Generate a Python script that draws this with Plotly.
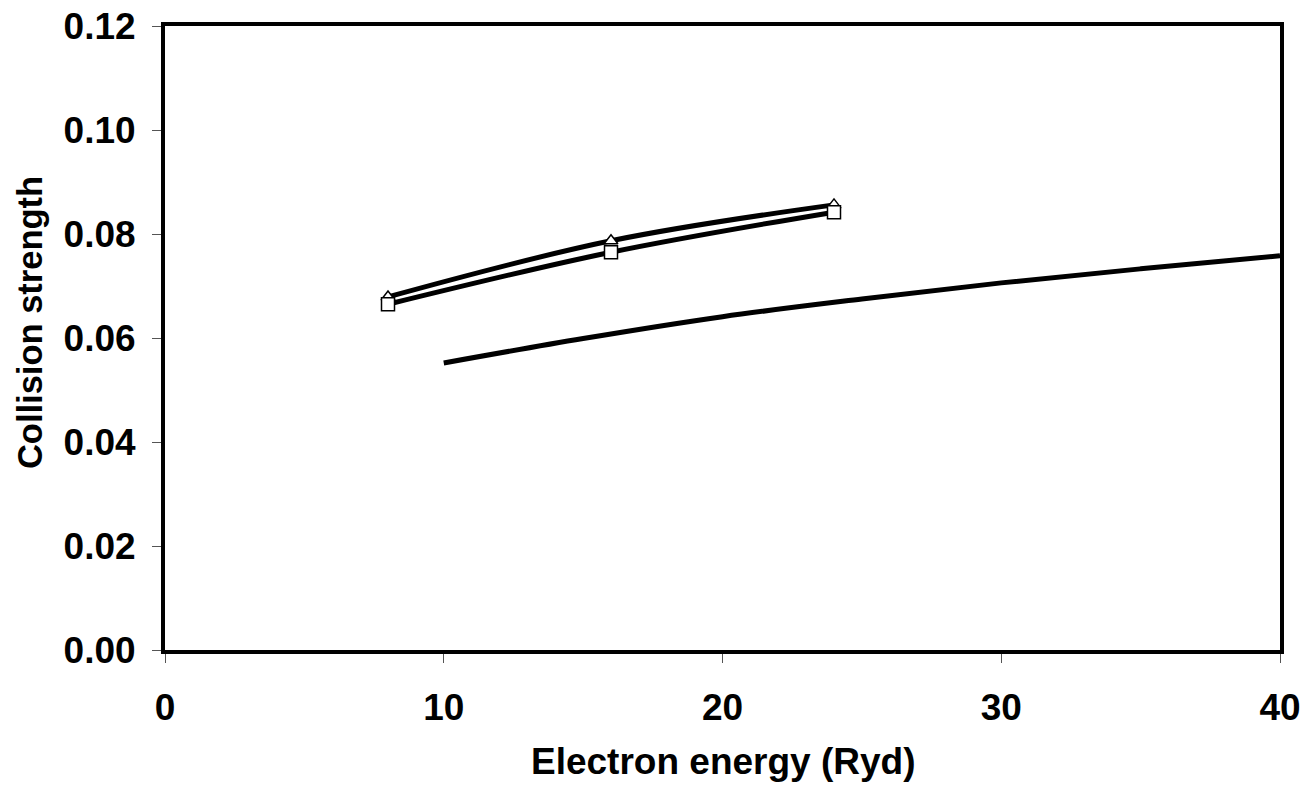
import plotly.graph_objects as go

# Data
energy_a = [8, 16, 24]
strength_triangle = [0.0679, 0.0787, 0.0856]
strength_square = [0.0665, 0.0765, 0.0842]

energy_b = [10, 15, 20, 25, 30, 35, 40]
strength_line = [0.0552, 0.0599, 0.0641, 0.0675, 0.0706, 0.0733, 0.0758]

x_ticks = [0, 10, 20, 30, 40]
y_ticks = [0.00, 0.02, 0.04, 0.06, 0.08, 0.10, 0.12]

x_title = "Electron energy (Ryd)"
y_title = "Collision strength"

FONT = "Liberation Sans, Arial, sans-serif"

fig = go.Figure()
fig.add_trace(go.Scatter(
    x=energy_a, y=strength_triangle, mode="lines+markers",
    line=dict(color="black", width=5, shape="spline"),
    marker=dict(symbol="triangle-up", size=12, color="white",
                line=dict(color="black", width=1.5)),
    showlegend=False, cliponaxis=False))
fig.add_trace(go.Scatter(
    x=energy_a, y=strength_square, mode="lines+markers",
    line=dict(color="black", width=5, shape="spline"),
    marker=dict(symbol="square", size=13, color="white",
                line=dict(color="black", width=1.5)),
    showlegend=False, cliponaxis=False))
fig.add_trace(go.Scatter(
    x=energy_b, y=strength_line, mode="lines",
    line=dict(color="black", width=5, shape="spline"),
    showlegend=False, cliponaxis=False))

fig.update_layout(
    template="none",
    width=1302, height=786,
    margin=dict(l=165, r=22, t=26, b=136, autoexpand=False),
    paper_bgcolor="white", plot_bgcolor="white",
    font=dict(family=FONT, color="black", size=36),
    annotations=[
        dict(text=f"<b>{x_title}</b>", xref="paper", yref="paper",
             x=0.5, y=-0.178, xanchor="center", yanchor="middle",
             showarrow=False, font=dict(family=FONT, size=37, color="black")),
        dict(text=f"<b>{y_title}</b>", xref="paper", yref="paper",
             x=-0.121, y=0.524, xanchor="center", yanchor="middle", textangle=-90,
             showarrow=False, font=dict(family=FONT, size=34.5, color="black")),
    ],
)
fig.update_xaxes(
    range=[0, 40], tickvals=x_ticks, ticktext=[str(v) for v in x_ticks],
    showgrid=False, zeroline=False, automargin=False,
    showline=True, linecolor="black", linewidth=4, mirror=True,
    ticks="outside", ticklen=9, tickwidth=1, tickcolor="#555555",
    tickfont=dict(family=FONT, size=37, weight="bold"),
    ticklabelstandoff=13,
)
fig.update_yaxes(
    range=[0, 0.12], tickvals=y_ticks, ticktext=[f"{v:.2f}" for v in y_ticks],
    showgrid=False, zeroline=False, automargin=False,
    showline=True, linecolor="black", linewidth=4, mirror=True,
    ticks="outside", ticklen=9, tickwidth=1, tickcolor="#555555",
    tickfont=dict(family=FONT, size=37, weight="bold"),
    ticklabelstandoff=9,
)

fig.write_html("out.html")
